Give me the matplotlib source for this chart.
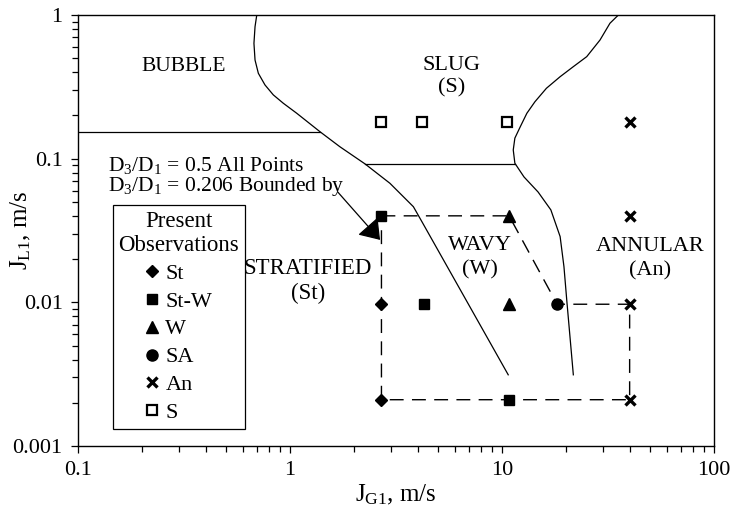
import matplotlib
matplotlib.use("Agg")
import matplotlib.pyplot as plt
from matplotlib import ticker
from matplotlib.lines import Line2D

plt.rcParams['font.family'] = 'Liberation Serif'
plt.rcParams['mathtext.fontset'] = 'custom'
plt.rcParams['mathtext.rm'] = 'Liberation Serif'
plt.rcParams['mathtext.it'] = 'Liberation Serif:italic'

# observed flow patterns (J_G1, J_L1 in m/s)
st_x = [2.7, 2.7]
st_y = [0.0097, 0.0021]
stw_x = [2.7, 4.3, 10.8]
stw_y = [0.04, 0.0097, 0.0021]
w_x = [10.8, 10.8]
w_y = [0.04, 0.0097]
sa_x = [18.2]
sa_y = [0.0097]
an_x = [40, 40, 40, 40]
an_y = [0.18, 0.04, 0.0097, 0.0021]
s_x = [2.7, 4.2, 10.6]
s_y = [0.18, 0.18, 0.18]

# region bounded for D3/D1 = 0.206
bound_x = [2.7, 10.8, 18.2, 40, 40, 2.7, 2.7]
bound_y = [0.04, 0.04, 0.0097, 0.0097, 0.0021, 0.0021, 0.04]

# flow regime transition boundaries
left_bx = [0.697, 0.684, 0.676, 0.684, 0.709, 0.762, 0.834, 0.930, 1.076, 1.385,
           1.72, 2.26, 2.96, 3.82, 4.20, 10.7]
left_by = [1.0, 0.829, 0.635, 0.486, 0.393, 0.326, 0.278, 0.243, 0.207, 0.154,
           0.121, 0.0919, 0.0674, 0.0463, 0.0362, 0.00313]
right_bx = [35.4, 32.3, 29.0, 25.1, 21.7, 18.8, 16.2, 14.3, 13.1, 12.2, 11.5, 11.3,
            11.5, 12.7, 14.8, 17.0, 18.8, 19.6, 20.2, 21.7]
right_by = [1.0, 0.876, 0.670, 0.513, 0.437, 0.372, 0.309, 0.249, 0.207, 0.167,
            0.139, 0.115, 0.0929, 0.0746, 0.0586, 0.0440, 0.0287, 0.0177, 0.0104,
            0.00313]
bubble_x = [0.1, 1.385]
bubble_y = [0.154, 0.154]
slug_x = [2.26, 11.5]
slug_y = [0.0925, 0.0925]

fig = plt.figure(figsize=(7.31, 5.07), dpi=100)
ax = fig.add_axes([78 / 731, 1 - 446 / 507, 636 / 731, 431 / 507])
ax.set_xscale('log')
ax.set_yscale('log')
ax.set_xlim(0.1, 100)
ax.set_ylim(0.001, 1)

lw = 0.9
ax.plot(left_bx, left_by, color='black', lw=lw)
ax.plot(right_bx, right_by, color='black', lw=lw)
ax.plot(bubble_x, bubble_y, color='black', lw=lw)
ax.plot(slug_x, slug_y, color='black', lw=lw)

ax.plot(bound_x, bound_y, color='black', lw=1.0, dashes=(10, 6))

ax.plot(st_x, st_y, 'D', color='black', ms=6.5, ls='none')
ax.plot(stw_x, stw_y, 's', color='black', ms=7, ls='none')
ax.plot(w_x, w_y, '^', color='black', ms=8, ls='none')
ax.plot(sa_x, sa_y, 'o', color='black', ms=8, ls='none')
ax.plot(an_x, an_y, 'x', color='black', ms=7, mew=2.4, ls='none')
ax.plot(s_x, s_y, 's', mfc='white', mec='black', mew=1.6, ms=7, ls='none')

fs = 16
ax.text(0.316, 0.435, 'BUBBLE', fontsize=15.5, ha='center', va='center')
ax.text(5.8, 0.37, 'SLUG\n(S)', fontsize=fs, ha='center', va='center', linespacing=1.25)
ax.text(7.9, 0.0205, 'WAVY\n(W)', fontsize=fs, ha='center', va='center', linespacing=1.35)
ax.text(50, 0.0200, 'ANNULAR\n(An)', fontsize=fs, ha='center', va='center', linespacing=1.35)
ax.text(1.216, 0.0141, 'STRATIFIED\n(St)', fontsize=16.5, ha='center', va='center', linespacing=1.25)

ax.text(0.138, 0.089, r'D$_3$/D$_1$ = 0.5 All Points', fontsize=15.5, ha='left', va='center')
ax.text(0.138, 0.064, r'D$_3$/D$_1$ = 0.206 Bounded by', fontsize=15.5, ha='left', va='center')
ax.annotate('', xy=(2.66, 0.0272), xytext=(1.68, 0.0586),
            arrowprops=dict(arrowstyle='-|>,head_length=0.6,head_width=0.42',
                            mutation_scale=20, color='black', lw=0.9,
                            shrinkA=0, shrinkB=0))

handles = [
    Line2D([], [], marker='D', color='black', ms=6.5, ls='none'),
    Line2D([], [], marker='s', color='black', ms=7, ls='none'),
    Line2D([], [], marker='^', color='black', ms=8, ls='none'),
    Line2D([], [], marker='o', color='black', ms=8, ls='none'),
    Line2D([], [], marker='x', color='black', ms=7, mew=2.4, ls='none'),
    Line2D([], [], marker='s', mfc='white', mec='black', mew=1.6, ms=7, ls='none'),
]
labels = ['St', 'St-W', 'W', 'SA', 'An', 'S']
leg = ax.legend(handles, labels, title='Present\nObservations', loc='upper left',
                bbox_to_anchor=(0.055, 0.559), fontsize=fs, title_fontsize=16.5,
                frameon=True, fancybox=False, edgecolor='black', framealpha=1,
                handlelength=0.6, handletextpad=0.3, labelspacing=0.33,
                borderpad=0.25, borderaxespad=0)
leg.get_frame().set_linewidth(0.9)
leg.get_title().set_multialignment('center')
leg.get_title().set_linespacing(1.2)
leg._legend_box.align = 'center'

fmt = ticker.FuncFormatter(lambda v, _: f'{v:g}')
ax.xaxis.set_major_formatter(fmt)
ax.yaxis.set_major_formatter(fmt)
ax.xaxis.set_minor_formatter(ticker.NullFormatter())
ax.yaxis.set_minor_formatter(ticker.NullFormatter())
ax.tick_params(which='major', direction='out', length=5, width=0.9, labelsize=fs, pad=6)
ax.tick_params(which='minor', direction='out', length=4, width=0.9)
for sp in ax.spines.values():
    sp.set_linewidth(1.0)

ax.set_xlabel(r'J$_{\mathrm{G1}}$, m/s', fontsize=18, labelpad=2)
ax.set_ylabel(r'J$_{\mathrm{L1}}$, m/s', fontsize=18)
ax.yaxis.set_label_coords(-0.07, 0.5)

fig.savefig('out.png', dpi=100)
